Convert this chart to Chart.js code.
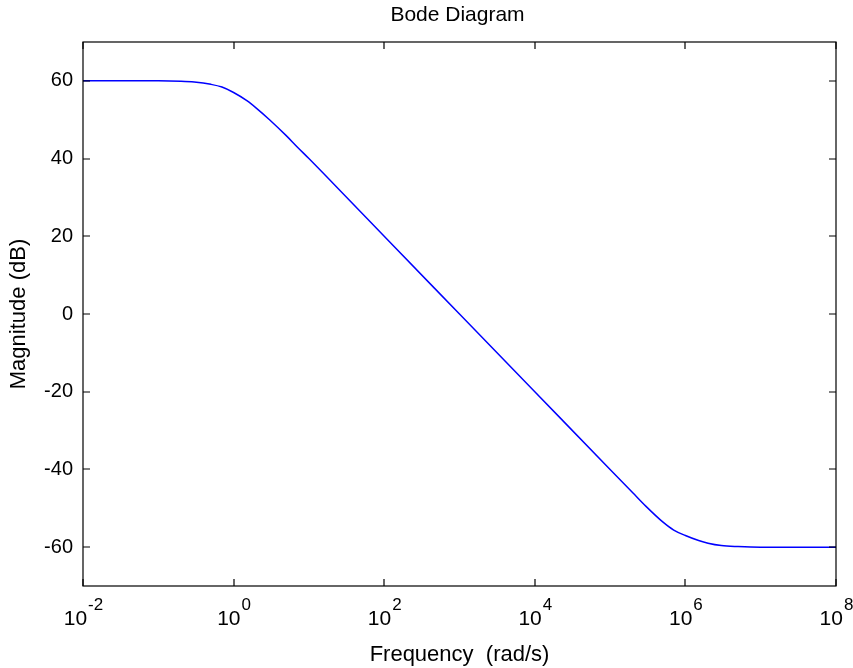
<!DOCTYPE html>
<html>
<head>
<meta charset="utf-8">
<script src="https://cdn.jsdelivr.net/npm/chart.js@4/dist/chart.umd.min.js"></script>
<style>
  html, body { margin: 0; padding: 0; background: #fff; }
  #c { display: block; }
</style>
</head>
<body>
<canvas id="c" width="853" height="668"></canvas>
<script>
// ---- data ----
const chartTitle = 'Bode Diagram';
const xAxisTitle = 'Frequency  (rad/s)';
const yAxisTitle = 'Magnitude (dB)';

// frequency (rad/s)
const freq = [0.01, 0.1, 0.2, 0.3, 0.5, 0.7, 1, 1.5, 2, 3, 5, 7, 10, 30, 100, 1000, 10000,
              100000, 200000, 300000, 500000, 700000, 1000000, 1500000, 2000000, 3000000,
              5000000, 10000000, 100000000];
// magnitude (dB)
const magnitude = [60, 60, 59.9, 59.7, 59.1, 58.4, 57.0, 54.9, 53.0, 50.0, 45.9, 43.0, 40.0, 30.5,
                   20.0, 0, -20, -40, -46.0, -49.5, -53.5, -55.6, -57.0, -58.3, -59.0, -59.6,
                   -59.85, -60, -60];

const xTickValues = [1e-2, 1e0, 1e2, 1e4, 1e6, 1e8];
const xTickExponents = ['-2', '0', '2', '4', '6', '8'];
const yTickValues = [-60, -40, -20, 0, 20, 40, 60];

const FONT = "'Liberation Sans', Arial, Helvetica, sans-serif";

const boxPlugin = {
  id: 'boxPlugin',
  afterDraw(chart) {
    const ctx = chart.ctx;
    const a = chart.chartArea;
    const xs = chart.scales.x, ys = chart.scales.y;
    const TL = 7;
    ctx.save();
    ctx.strokeStyle = '#000';
    ctx.lineWidth = 1.2;
    ctx.strokeRect(a.left, a.top, a.right - a.left, a.bottom - a.top);
    ctx.beginPath();
    xTickValues.forEach(v => {
      const px = Math.round(xs.getPixelForValue(v));
      ctx.moveTo(px, a.bottom); ctx.lineTo(px, a.bottom - TL);
      ctx.moveTo(px, a.top); ctx.lineTo(px, a.top + TL);
    });
    yTickValues.forEach(v => {
      const py = Math.round(ys.getPixelForValue(v));
      ctx.moveTo(a.left, py); ctx.lineTo(a.left + TL, py);
      ctx.moveTo(a.right, py); ctx.lineTo(a.right - TL, py);
    });
    ctx.stroke();

    // x tick labels: 10 with superscript exponent
    ctx.fillStyle = '#000';
    ctx.textBaseline = 'alphabetic';
    ctx.textAlign = 'left';
    const baseFont = '21px ' + FONT;
    const expFont = '17px ' + FONT;
    xTickValues.forEach((v, i) => {
      const px = xs.getPixelForValue(v);
      ctx.font = baseFont;
      const w1 = ctx.measureText('10').width;
      ctx.font = expFont;
      const w2 = ctx.measureText(xTickExponents[i]).width;
      const start = px - (w1 + w2) / 2;
      ctx.font = baseFont;
      ctx.fillText('10', start, a.bottom + 39);
      ctx.font = expFont;
      ctx.fillText(xTickExponents[i], start + w1 + 1, a.bottom + 24);
    });

    // chart title
    ctx.font = '21px ' + FONT;
    ctx.textAlign = 'center';
    ctx.fillText(chartTitle, (a.left + a.right) / 2 - 2, 21);
    ctx.restore();
  }
};

new Chart(document.getElementById('c'), {
  type: 'line',
  data: {
    datasets: [{
      data: freq.map((f, i) => ({ x: f, y: magnitude[i] })),
      borderColor: '#0000ff',
      borderWidth: 1.5,
      pointRadius: 0,
      fill: false,
      cubicInterpolationMode: 'monotone'
    }]
  },
  options: {
    responsive: false,
    devicePixelRatio: 1,
    animation: false,
    layout: { padding: { top: 42, right: 17, bottom: 0, left: 0 } },
    plugins: { legend: { display: false }, tooltip: { enabled: false }, title: { display: false } },
    scales: {
      x: {
        type: 'logarithmic',
        min: 0.01, max: 1e8,
        grid: { display: false, drawTicks: false },
        border: { display: false },
        ticks: { display: false },
        title: { display: true, text: xAxisTitle, color: '#000',
                 font: { family: FONT, size: 22 }, padding: { top: 0, bottom: 0 } },
        afterFit(scale) { scale.height = 82; }
      },
      y: {
        type: 'linear',
        min: -70, max: 70,
        grid: { display: false, drawTicks: false },
        border: { display: false },
        afterBuildTicks(scale) { scale.ticks = yTickValues.map(v => ({ value: v })); },
        ticks: { color: '#000', font: { family: FONT, size: 20 }, padding: 10 },
        title: { display: true, text: yAxisTitle, color: '#000',
                 font: { family: FONT, size: 22 }, padding: { top: 6, bottom: 0 } },
        afterFit(scale) { scale.width = 83; }
      }
    }
  },
  plugins: [boxPlugin]
});
</script>
</body>
</html>
